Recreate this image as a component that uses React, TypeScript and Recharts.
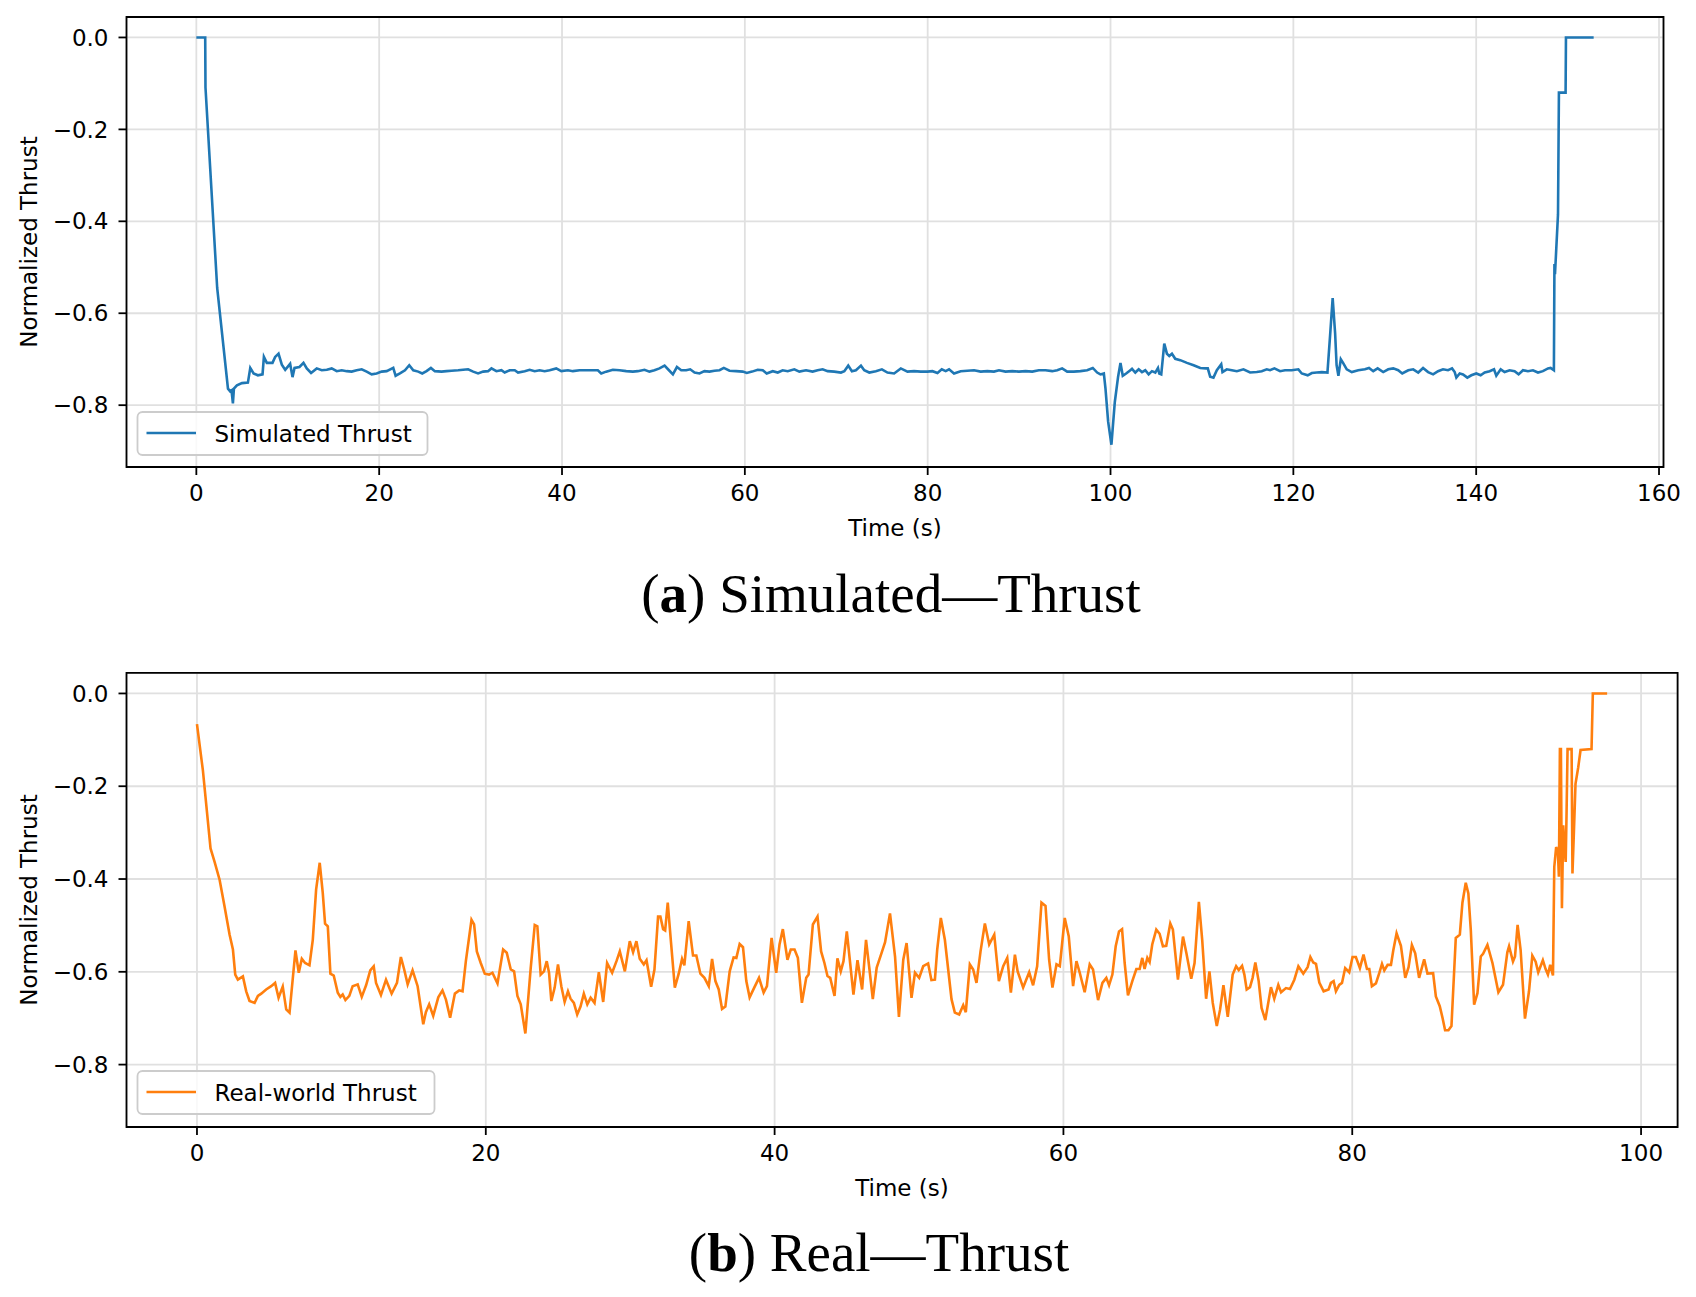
import { LineChart, Line, XAxis, YAxis, CartesianGrid, ReferenceArea } from "recharts";

// (a) simulated run: time in seconds, normalized thrust
const simTime = [
  0, 0.97, 1.0, 2.28, 3.46, 3.71, 3.85, 4.0, 4.11, 4.44, 4.99, 5.64, 5.9, 6.26, 6.73, 7.24, 7.39, 7.71, 8.33, 8.62,
  8.99, 9.35, 9.72, 10.26, 10.52, 10.74, 11.28, 11.72, 12.08, 12.55, 13.17, 13.72, 14.27, 14.81, 15.36, 15.9, 16.45,
  16.99, 17.54, 18.09, 18.63, 19.18, 19.72, 20.27, 20.82, 21.54, 21.8, 22.27, 22.82, 23.29, 23.73, 24.27, 24.71, 25.18,
  25.66, 26.09, 26.82, 27.37, 27.91, 28.64, 29.18, 29.73, 30.28, 30.82, 31.37, 31.91, 32.28, 32.82, 33.37, 33.73, 34.28,
  34.83, 35.19, 35.92, 36.46, 37.01, 37.55, 38.1, 38.65, 39.37, 39.92, 40.65, 41.19, 41.92, 42.47, 43.01, 43.92, 44.29,
  44.83, 45.56, 46.29, 47.02, 47.75, 48.29, 49.02, 49.56, 50.11, 50.66, 51.22, 51.7, 52.13, 52.57, 53.04, 53.58, 54.02,
  54.5, 55.04, 55.58, 56.13, 56.68, 57.23, 57.7, 58.32, 59.04, 59.77, 60.21, 60.79, 61.41, 61.96, 62.39, 63.05, 63.6,
  64.14, 64.69, 65.41, 65.96, 66.69, 67.41, 67.96, 68.51, 69.05, 69.78, 70.51, 70.88, 71.31, 71.71, 72.15, 72.7, 73.06,
  73.61, 74.33, 74.99, 75.6, 76.33, 77.06, 77.79, 78.51, 79.24, 79.97, 80.52, 81.07, 81.54, 81.97, 82.34, 82.88, 83.61,
  84.34, 85.07, 85.8, 86.52, 87.25, 87.8, 88.52, 89.25, 89.98, 90.71, 91.44, 92.16, 92.89, 93.62, 94.17, 94.71, 95.26,
  95.98, 96.71, 97.44, 98.06, 98.54, 98.9, 99.27, 99.45, 99.74, 100.1, 100.47, 100.83, 101.09, 101.34, 101.71, 102.1,
  102.35, 102.71, 103.08, 103.44, 103.8, 104.17, 104.53, 104.9, 105.19, 105.33, 105.55, 105.88, 106.17, 106.43, 106.72,
  107.08, 107.63, 108.36, 109.09, 109.82, 110.43, 110.64, 110.9, 111.26, 111.63, 112.11, 112.25, 112.72, 113.27, 113.82,
  114.54, 115.27, 116.0, 116.54, 117.09, 117.45, 117.93, 118.55, 119.09, 119.82, 120.55, 120.92, 121.57, 122.02, 122.56,
  123.11, 123.73, 124.02, 124.3, 124.57, 124.73, 124.93, 125.19, 125.47, 125.84, 126.39, 127.1, 127.83, 128.28, 128.74,
  129.22, 129.83, 130.38, 130.93, 131.47, 131.91, 132.57, 133.11, 133.66, 134.19, 134.74, 135.29, 135.83, 136.37,
  136.92, 137.36, 137.65, 137.83, 138.2, 138.56, 139.03, 139.47, 140.01, 140.49, 140.93, 141.47, 141.95, 142.2, 142.68,
  143.11, 143.66, 144.2, 144.64, 145.12, 145.66, 146.21, 146.76, 147.3, 147.85, 148.14, 148.5, 148.56, 148.62, 148.95,
  149.05, 149.78, 149.82, 152.85,
];
const simThrust = [
  0, 0, -0.109, -0.545, -0.764, -0.77, -0.768, -0.796, -0.764, -0.757, -0.752, -0.751, -0.719, -0.731, -0.735, -0.733,
  -0.695, -0.708, -0.708, -0.695, -0.688, -0.712, -0.723, -0.71, -0.739, -0.719, -0.717, -0.708, -0.72, -0.73, -0.72,
  -0.724, -0.723, -0.72, -0.726, -0.724, -0.726, -0.727, -0.724, -0.722, -0.727, -0.733, -0.731, -0.727, -0.726, -0.719,
  -0.736, -0.731, -0.724, -0.713, -0.724, -0.727, -0.731, -0.726, -0.719, -0.726, -0.727, -0.726, -0.725, -0.724,
  -0.723, -0.722, -0.727, -0.731, -0.727, -0.726, -0.72, -0.726, -0.724, -0.729, -0.724, -0.724, -0.729, -0.726,
  -0.723, -0.726, -0.724, -0.726, -0.724, -0.72, -0.726, -0.724, -0.726, -0.724, -0.724, -0.724, -0.724, -0.731,
  -0.727, -0.723, -0.724, -0.726, -0.727, -0.726, -0.723, -0.727, -0.724, -0.72, -0.714, -0.724, -0.733, -0.717,
  -0.724, -0.724, -0.722, -0.729, -0.731, -0.726, -0.727, -0.725, -0.724, -0.719, -0.725, -0.726, -0.727, -0.73,
  -0.727, -0.723, -0.724, -0.731, -0.726, -0.729, -0.724, -0.726, -0.722, -0.727, -0.724, -0.727, -0.724, -0.722,
  -0.726, -0.727, -0.729, -0.726, -0.714, -0.726, -0.724, -0.714, -0.724, -0.729, -0.726, -0.722, -0.729, -0.731,
  -0.72, -0.727, -0.726, -0.727, -0.727, -0.726, -0.73, -0.722, -0.726, -0.722, -0.731, -0.726, -0.725, -0.724,
  -0.727, -0.726, -0.727, -0.724, -0.727, -0.726, -0.727, -0.726, -0.727, -0.724, -0.724, -0.726, -0.724, -0.72,
  -0.727, -0.727, -0.726, -0.724, -0.719, -0.729, -0.733, -0.731, -0.764, -0.836, -0.886, -0.793, -0.738, -0.708,
  -0.736, -0.731, -0.725, -0.721, -0.729, -0.722, -0.728, -0.724, -0.733, -0.726, -0.729, -0.719, -0.731, -0.733,
  -0.666, -0.688, -0.693, -0.688, -0.699, -0.702, -0.708, -0.713, -0.719, -0.72, -0.72, -0.738, -0.74, -0.724, -0.711,
  -0.728, -0.722, -0.724, -0.726, -0.722, -0.729, -0.728, -0.726, -0.722, -0.724, -0.72, -0.726, -0.724, -0.724,
  -0.722, -0.731, -0.735, -0.73, -0.729, -0.728, -0.729, -0.648, -0.567, -0.644, -0.713, -0.736, -0.7, -0.709, -0.722,
  -0.728, -0.724, -0.722, -0.719, -0.726, -0.72, -0.728, -0.722, -0.72, -0.724, -0.731, -0.724, -0.722, -0.729,
  -0.719, -0.728, -0.733, -0.726, -0.722, -0.724, -0.72, -0.728, -0.74, -0.731, -0.733, -0.74, -0.735, -0.731, -0.735,
  -0.729, -0.726, -0.722, -0.736, -0.722, -0.728, -0.724, -0.726, -0.733, -0.724, -0.726, -0.724, -0.729, -0.726,
  -0.72, -0.719, -0.724, -0.493, -0.515, -0.385, -0.12, -0.12, 0, 0,
];

// (b) real-world run
const realTime = [
  0, 0.41, 0.94, 1.22, 1.57, 1.91, 2.26, 2.49, 2.65, 2.83, 3.18, 3.41, 3.64, 3.99, 4.22, 4.45, 4.79, 5.14, 5.41, 5.65,
  5.94, 6.18, 6.41, 6.82, 7.05, 7.26, 7.49, 7.79, 8.02, 8.25, 8.5, 8.71, 8.87, 9.06, 9.24, 9.47, 9.75, 9.93, 10.09,
  10.28, 10.55, 10.78, 11.13, 11.41, 11.71, 12.0, 12.24, 12.4, 12.74, 13.09, 13.48, 13.85, 14.12, 14.35, 14.59, 14.93,
  15.28, 15.67, 15.85, 16.08, 16.36, 16.71, 17.0, 17.24, 17.53, 17.86, 18.16, 18.39, 18.62, 19.01, 19.19, 19.38, 19.65,
  19.93, 20.23, 20.46, 20.81, 21.2, 21.45, 21.73, 21.96, 22.19, 22.42, 22.74, 23.11, 23.39, 23.57, 23.8, 24.03, 24.22,
  24.38, 24.54, 24.77, 25.0, 25.23, 25.46, 25.69, 25.87, 26.1, 26.33, 26.56, 26.79, 27.03, 27.26, 27.53, 27.83, 28.13,
  28.4, 28.75, 29.05, 29.28, 29.63, 29.97, 30.2, 30.43, 30.66, 30.94, 31.13, 31.45, 31.68, 31.93, 32.09, 32.28, 32.42,
  32.6, 32.83, 33.09, 33.36, 33.59, 33.75, 34.05, 34.35, 34.58, 34.86, 35.14, 35.44, 35.67, 35.9, 36.13, 36.36, 36.59,
  36.89, 37.16, 37.35, 37.58, 37.81, 38.04, 38.27, 38.59, 38.92, 39.24, 39.47, 39.79, 40.11, 40.34, 40.57, 40.89, 41.12,
  41.38, 41.61, 41.89, 42.19, 42.35, 42.65, 42.97, 43.22, 43.45, 43.66, 43.85, 44.15, 44.35, 44.58, 44.77, 45.0, 45.23,
  45.46, 45.74, 46.06, 46.33, 46.57, 46.8, 47.07, 47.42, 47.65, 47.99, 48.34, 48.61, 48.91, 49.14, 49.48, 49.72, 50.01,
  50.29, 50.63, 50.86, 51.1, 51.26, 51.51, 51.79, 52.02, 52.25, 52.48, 52.78, 53.06, 53.24, 53.52, 53.75, 53.98, 54.26,
  54.56, 54.86, 55.21, 55.53, 55.83, 56.11, 56.36, 56.64, 56.83, 57.21, 57.63, 57.9, 58.18, 58.48, 58.76, 59.01, 59.24,
  59.52, 59.75, 60.09, 60.37, 60.67, 60.9, 61.13, 61.47, 61.82, 62.05, 62.4, 62.7, 62.97, 63.16, 63.39, 63.62, 63.85,
  64.06, 64.24, 64.47, 64.77, 65.05, 65.28, 65.46, 65.62, 65.81, 65.97, 66.15, 66.43, 66.66, 66.89, 67.12, 67.4, 67.58,
  67.93, 68.28, 68.51, 68.85, 69.08, 69.38, 69.61, 69.88, 70.11, 70.34, 70.62, 70.85, 71.08, 71.38, 71.72, 71.96, 72.14,
  72.37, 72.53, 72.69, 72.92, 73.1, 73.29, 73.52, 73.72, 73.98, 74.37, 74.6, 74.88, 75.07, 75.41, 75.69, 75.99, 76.27,
  76.61, 76.91, 77.1, 77.3, 77.49, 77.72, 78.02, 78.36, 78.52, 78.71, 78.87, 79.1, 79.29, 79.51, 79.79, 80.02, 80.25,
  80.53, 80.78, 81.02, 81.18, 81.36, 81.64, 81.87, 82.06, 82.22, 82.45, 82.68, 82.84, 83.07, 83.37, 83.67, 83.9, 84.13,
  84.36, 84.63, 84.98, 85.21, 85.6, 85.79, 86.06, 86.25, 86.43, 86.66, 86.87, 87.17, 87.45, 87.63, 87.86, 88.04, 88.21,
  88.44, 88.67, 88.9, 89.06, 89.36, 89.71, 90.12, 90.44, 90.74, 90.86, 91.13, 91.27, 91.45, 91.66, 91.96, 92.24, 92.47,
  92.7, 92.88, 93.2, 93.39, 93.55, 93.71, 93.9, 93.99, 94.12, 94.24, 94.31, 94.38, 94.45, 94.52, 94.61, 94.71, 94.78,
  94.84, 94.91, 95.19, 95.25, 95.35, 95.46, 95.65, 95.81, 96.57, 96.66, 97.65,
];
const realThrust = [
  -0.066, -0.166, -0.334, -0.363, -0.402, -0.459, -0.52, -0.552, -0.606, -0.617, -0.61, -0.642, -0.663, -0.667, -0.652,
  -0.647, -0.638, -0.631, -0.624, -0.656, -0.632, -0.681, -0.688, -0.554, -0.602, -0.572, -0.581, -0.586, -0.531,
  -0.423, -0.365, -0.43, -0.496, -0.502, -0.604, -0.608, -0.645, -0.654, -0.649, -0.661, -0.652, -0.631, -0.627,
  -0.654, -0.629, -0.597, -0.588, -0.624, -0.65, -0.617, -0.647, -0.624, -0.568, -0.595, -0.627, -0.597, -0.631,
  -0.713, -0.687, -0.67, -0.695, -0.655, -0.64, -0.66, -0.699, -0.647, -0.64, -0.642, -0.577, -0.488, -0.498, -0.556,
  -0.581, -0.604, -0.606, -0.602, -0.625, -0.552, -0.559, -0.595, -0.599, -0.652, -0.67, -0.733, -0.592, -0.499,
  -0.502, -0.606, -0.599, -0.577, -0.602, -0.663, -0.634, -0.584, -0.631, -0.665, -0.642, -0.658, -0.667, -0.692,
  -0.675, -0.647, -0.67, -0.656, -0.667, -0.601, -0.665, -0.581, -0.602, -0.577, -0.556, -0.599, -0.534, -0.558,
  -0.534, -0.572, -0.584, -0.575, -0.632, -0.595, -0.481, -0.481, -0.508, -0.511, -0.451, -0.538, -0.634, -0.604,
  -0.572, -0.586, -0.491, -0.565, -0.565, -0.604, -0.613, -0.631, -0.572, -0.62, -0.638, -0.68, -0.675, -0.599,
  -0.569, -0.57, -0.54, -0.547, -0.62, -0.655, -0.634, -0.613, -0.645, -0.631, -0.527, -0.602, -0.541, -0.508, -0.574,
  -0.552, -0.552, -0.57, -0.667, -0.613, -0.606, -0.498, -0.481, -0.556, -0.581, -0.609, -0.613, -0.652, -0.571,
  -0.599, -0.577, -0.513, -0.581, -0.649, -0.575, -0.638, -0.531, -0.595, -0.659, -0.591, -0.558, -0.536, -0.474,
  -0.567, -0.697, -0.574, -0.538, -0.656, -0.602, -0.613, -0.588, -0.582, -0.618, -0.617, -0.552, -0.484, -0.531,
  -0.595, -0.659, -0.688, -0.692, -0.672, -0.687, -0.584, -0.595, -0.624, -0.556, -0.496, -0.541, -0.52, -0.62,
  -0.588, -0.57, -0.645, -0.563, -0.599, -0.634, -0.601, -0.629, -0.588, -0.451, -0.458, -0.574, -0.634, -0.584,
  -0.588, -0.484, -0.524, -0.631, -0.577, -0.602, -0.644, -0.584, -0.595, -0.661, -0.624, -0.613, -0.629, -0.606,
  -0.545, -0.513, -0.508, -0.581, -0.651, -0.62, -0.594, -0.594, -0.57, -0.594, -0.57, -0.579, -0.541, -0.509, -0.518,
  -0.545, -0.544, -0.496, -0.509, -0.617, -0.524, -0.559, -0.615, -0.581, -0.449, -0.531, -0.658, -0.599, -0.667,
  -0.717, -0.681, -0.629, -0.697, -0.606, -0.588, -0.596, -0.587, -0.606, -0.638, -0.633, -0.613, -0.58, -0.62,
  -0.678, -0.704, -0.633, -0.658, -0.628, -0.644, -0.635, -0.637, -0.617, -0.588, -0.604, -0.59, -0.568, -0.58, -0.583,
  -0.623, -0.642, -0.638, -0.624, -0.62, -0.642, -0.628, -0.624, -0.592, -0.601, -0.568, -0.568, -0.592, -0.563,
  -0.594, -0.594, -0.631, -0.625, -0.603, -0.583, -0.597, -0.585, -0.585, -0.554, -0.517, -0.544, -0.613, -0.59,
  -0.542, -0.56, -0.613, -0.573, -0.604, -0.603, -0.653, -0.674, -0.699, -0.726, -0.726, -0.717, -0.527, -0.52, -0.451,
  -0.408, -0.431, -0.51, -0.671, -0.646, -0.567, -0.561, -0.542, -0.581, -0.644, -0.628, -0.558, -0.545, -0.578,
  -0.567, -0.499, -0.553, -0.701, -0.642, -0.565, -0.578, -0.601, -0.575, -0.594, -0.606, -0.585, -0.608, -0.374,
  -0.331, -0.341, -0.395, -0.12, -0.12, -0.463, -0.284, -0.338, -0.363, -0.259, -0.12, -0.12, -0.388, -0.298, -0.195,
  -0.159, -0.122, -0.12, 0, 0,
];

const simTicks = [0, 20, 40, 60, 80, 100, 120, 140, 160];
const realTicks = [0, 20, 40, 60, 80, 100];
const thrustTicks = [-0.8, -0.6, -0.4, -0.2, 0];
const thrustDomain = [-0.9345, 0.0445];
const simDomain = [-7.64, 160.49];
const realDomain = [-4.88, 102.53];

const simData = simTime.map((t, i) => ({ t, v: simThrust[i] }));
const realData = realTime.map((t, i) => ({ t, v: realThrust[i] }));

const SANS = "'DejaVu Sans', sans-serif";
const SERIF = "'Liberation Serif', 'DejaVu Serif', serif";
const tickStyle = { fill: "#000", fontSize: 23, fontFamily: SANS };
const fmtThrust = (v: number) => (Math.abs(v) < 1e-9 ? "0.0" : "\u2212" + Math.abs(v).toFixed(1));

type PanelProps = {
  data: { t: number; v: number }[];
  color: string;
  xDomain: number[];
  xTicks: number[];
  top: number;
  height: number;
  marginTop: number;
  marginRight: number;
};

function ThrustPanel({ data, color, xDomain, xTicks, top, height, marginTop, marginRight }: PanelProps) {
  return (
    <div style={{ position: "absolute", left: 0, top, width: 1696, height }}>
      <LineChart width={1696} height={height} data={data} margin={{ top: marginTop, right: marginRight, left: 0, bottom: 0 }}>
        <CartesianGrid stroke="#e0e0e0" strokeWidth={1.8} />
        <XAxis
          type="number"
          dataKey="t"
          domain={xDomain}
          ticks={xTicks}
          allowDataOverflow
          height={73}
          tickSize={8}
          tickMargin={10}
          axisLine={false}
          tickLine={{ stroke: "#000", strokeWidth: 1.8 }}
          tick={tickStyle}
        />
        <YAxis
          type="number"
          domain={thrustDomain}
          ticks={thrustTicks}
          allowDataOverflow
          width={126.5}
          tickSize={8}
          tickMargin={10}
          axisLine={false}
          tickLine={{ stroke: "#000", strokeWidth: 1.8 }}
          tick={tickStyle}
          tickFormatter={fmtThrust}
        />
        <Line type="linear" dataKey="v" stroke={color} strokeWidth={2.6} dot={false} isAnimationActive={false} />
        <ReferenceArea
          x1={xDomain[0]}
          x2={xDomain[1]}
          y1={thrustDomain[0]}
          y2={thrustDomain[1]}
          fill="none"
          fillOpacity={0}
          stroke="#000"
          strokeWidth={1.8}
          ifOverflow="visible"
        />
      </LineChart>
    </div>
  );
}

function LegendBox({ x, y, w, label, color }: { x: number; y: number; w: number; label: string; color: string }) {
  return (
    <g>
      <rect x={x} y={y} width={w} height={43} rx={5} fill="#fff" fillOpacity={0.8} stroke="#cccccc" strokeWidth={1.8} />
      <line x1={x + 9} x2={x + 58.5} y1={y + 21} y2={y + 21} stroke={color} strokeWidth={2.6} />
      <text x={x + 77} y={y + 29.5} fontSize={23} fontFamily={SANS} fill="#000">
        {label}
      </text>
    </g>
  );
}

export default function App() {
  return (
    <div style={{ position: "absolute", left: 0, top: 0, width: 1696, height: 1297, background: "#fff" }}>
      <ThrustPanel data={simData} color="#1f77b4" xDomain={simDomain} xTicks={simTicks} top={0} height={540} marginTop={17} marginRight={32.5} />
      <ThrustPanel data={realData} color="#ff7f0e" xDomain={realDomain} xTicks={realTicks} top={640} height={560} marginTop={32.8} marginRight={18.4} />
      <svg width={1696} height={1297} style={{ position: "absolute", left: 0, top: 0, pointerEvents: "none" }}>
        <text x={37} y={242} transform="rotate(-90 37 242)" textAnchor="middle" fontSize={23} fontFamily={SANS} fill="#000">
          Normalized Thrust
        </text>
        <text x={895} y={535.5} textAnchor="middle" fontSize={23} fontFamily={SANS} fill="#000">
          Time (s)
        </text>
        <LegendBox x={137.5} y={412} w={290} label="Simulated Thrust" color="#1f77b4" />
        <text x={891} y={612} textAnchor="middle" fontSize={55} fontFamily={SERIF} fill="#000">
          (<tspan fontWeight="bold">a</tspan>) Simulated—Thrust
        </text>

        <text x={37} y={900} transform="rotate(-90 37 900)" textAnchor="middle" fontSize={23} fontFamily={SANS} fill="#000">
          Normalized Thrust
        </text>
        <text x={902} y={1196} textAnchor="middle" fontSize={23} fontFamily={SANS} fill="#000">
          Time (s)
        </text>
        <LegendBox x={137.5} y={1071} w={297} label="Real-world Thrust" color="#ff7f0e" />
        <text x={879} y={1271} textAnchor="middle" fontSize={55} fontFamily={SERIF} fill="#000">
          (<tspan fontWeight="bold">b</tspan>) Real—Thrust
        </text>
      </svg>
    </div>
  );
}
